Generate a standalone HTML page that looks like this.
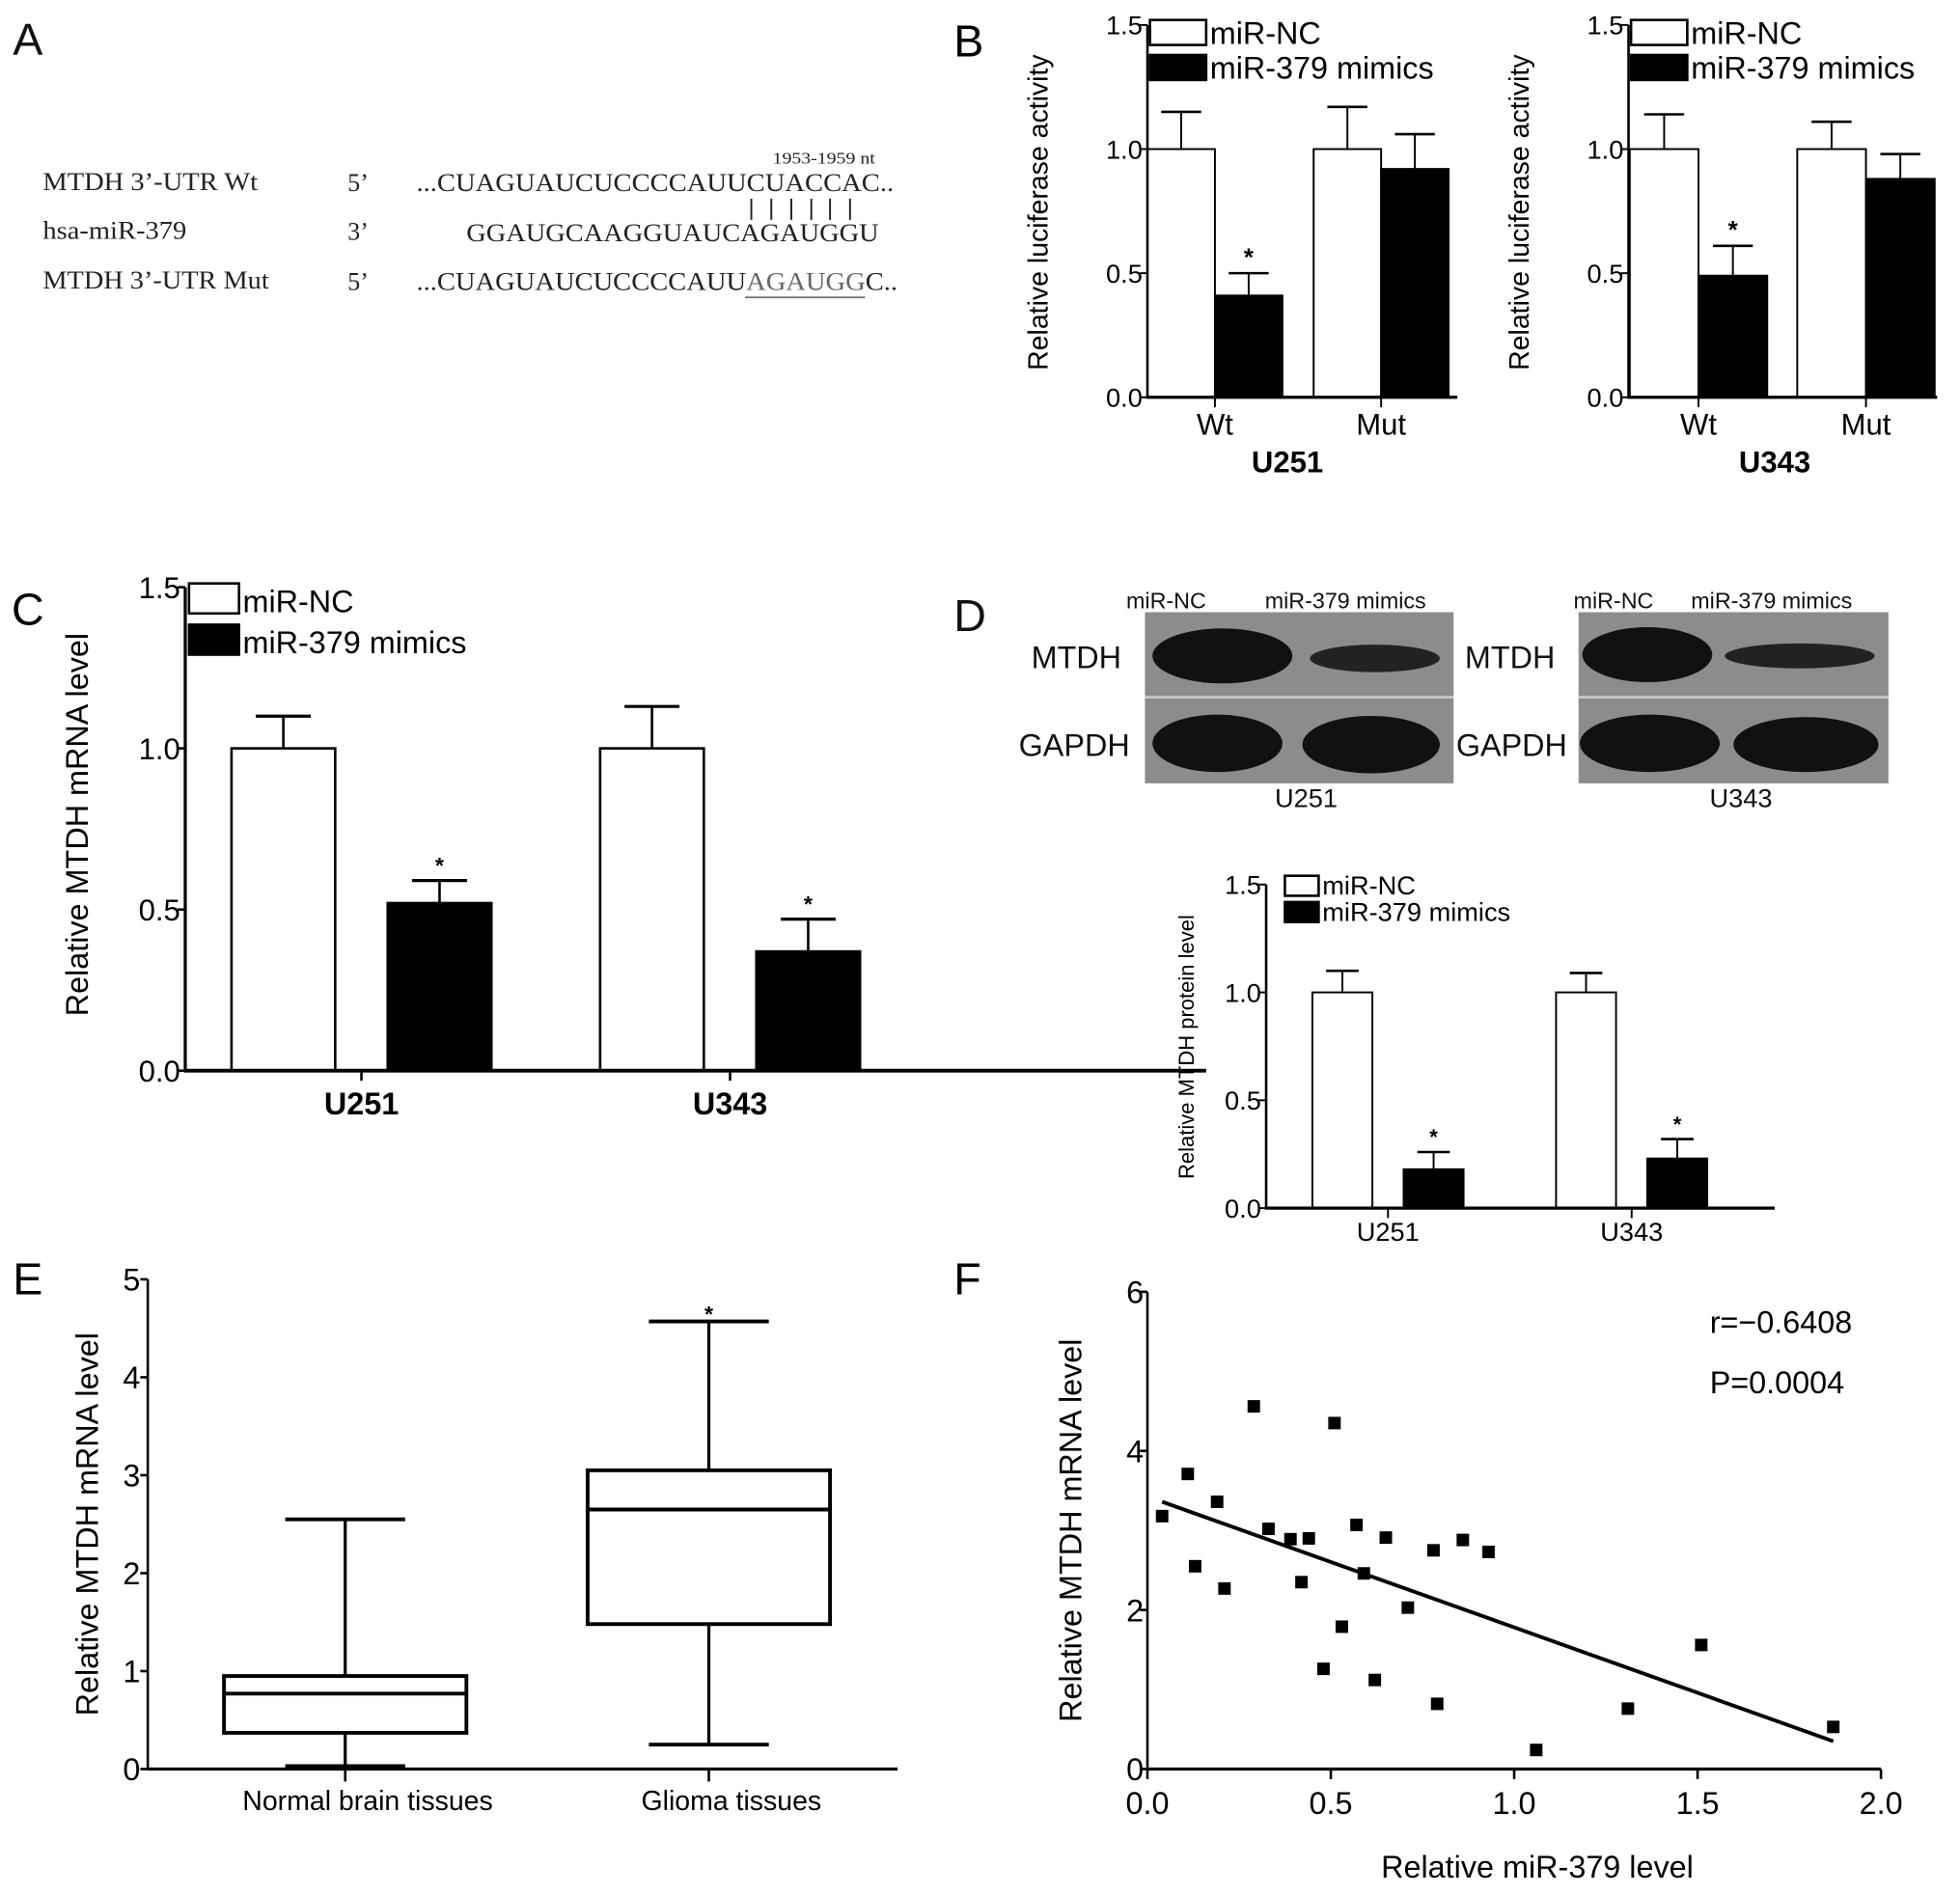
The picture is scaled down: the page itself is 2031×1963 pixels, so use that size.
<!DOCTYPE html>
<html><head><meta charset="utf-8">
<style>
html,body{margin:0;padding:0;background:#fff;}
svg{display:block;font-family:"Liberation Sans",Arial,sans-serif;}
.ser{font-family:"Liberation Serif","Times New Roman",serif;}
</style></head>
<body>
<svg id="fig" width="2031" height="1963" viewBox="0 0 1568 1516" xmlns="http://www.w3.org/2000/svg">
<rect width="1568" height="1516" fill="#fff"/>
<!-- Panel A -->
<g class="ser" font-size="20" fill="#222">
<text x="10" y="44" font-size="36" font-family="Liberation Sans" fill="#111">A</text>
<text x="34" y="152" textLength="172" lengthAdjust="spacingAndGlyphs">MTDH 3’-UTR Wt</text>
<text x="278" y="153">5’</text>
<text x="333" y="153" textLength="382" lengthAdjust="spacingAndGlyphs">...CUAGUAUCUCCCCAUUCUACCAC..</text>
<text x="618" y="131" font-size="13" textLength="82" lengthAdjust="spacingAndGlyphs">1953-1959 nt</text>
<g stroke="#222" stroke-width="1.5">
<line x1="601" y1="159" x2="601" y2="176"/><line x1="617" y1="159" x2="617" y2="176"/><line x1="633" y1="159" x2="633" y2="176"/><line x1="649" y1="159" x2="649" y2="176"/><line x1="664" y1="159" x2="664" y2="176"/><line x1="680" y1="159" x2="680" y2="176"/>
</g>
<text x="34" y="191" textLength="115" lengthAdjust="spacingAndGlyphs">hsa-miR-379</text>
<text x="278" y="192">3’</text>
<text x="373" y="193" textLength="330" lengthAdjust="spacingAndGlyphs">GGAUGCAAGGUAUCAGAUGGU</text>
<text x="34" y="231" textLength="181" lengthAdjust="spacingAndGlyphs">MTDH 3’-UTR Mut</text>
<text x="278" y="232">5’</text>
<text x="333" y="232" textLength="385" lengthAdjust="spacingAndGlyphs">...CUAGUAUCUCCCCAUU<tspan fill="#666">AGAUGG</tspan>C..</text>
<line x1="596" y1="238" x2="692" y2="238" stroke="#777" stroke-width="1.5"/>
</g>
<g id="dyn"></g>
<!-- Western blots -->
<g font-size="18" fill="#111">
<text x="763" y="505" font-size="36">D</text>
<rect x="916" y="490" width="247" height="137" fill="#8c8c8c"/>
<rect x="1263" y="490" width="248" height="137" fill="#8c8c8c"/>
<line x1="916" y1="558" x2="1163" y2="558" stroke="#ccc" stroke-width="2"/>
<line x1="1263" y1="558" x2="1511" y2="558" stroke="#ccc" stroke-width="2"/>
<ellipse cx="978" cy="525" rx="56" ry="22" fill="#111"/>
<ellipse cx="1100" cy="527" rx="52" ry="11" fill="#222"/>
<ellipse cx="974" cy="595" rx="52" ry="23" fill="#111"/>
<ellipse cx="1097" cy="596" rx="55" ry="23" fill="#111"/>
<ellipse cx="1318" cy="524" rx="52" ry="22" fill="#111"/>
<ellipse cx="1440" cy="525" rx="60" ry="10" fill="#222"/>
<ellipse cx="1320" cy="595" rx="56" ry="23" fill="#111"/>
<ellipse cx="1445" cy="596" rx="58" ry="22" fill="#111"/>
<text x="901" y="487">miR-NC</text>
<text x="1012" y="487">miR-379 mimics</text>
<text x="1259" y="487">miR-NC</text>
<text x="1353" y="487">miR-379 mimics</text>
<text x="825" y="535" font-size="25">MTDH</text>
<text x="815" y="605" font-size="25">GAPDH</text>
<text x="1172" y="535" font-size="25">MTDH</text>
<text x="1165" y="605" font-size="25">GAPDH</text>
<text x="1045" y="646" font-size="21" text-anchor="middle">U251</text>
<text x="1393" y="646" font-size="21" text-anchor="middle">U343</text>
</g>
</svg>
<script>
const NS="http://www.w3.org/2000/svg";
const root=document.getElementById('dyn');
function el(tag,attrs,parent,txt){const e=document.createElementNS(NS,tag);for(const k in attrs)e.setAttribute(k,attrs[k]);if(txt!==undefined)e.textContent=txt;(parent||root).appendChild(e);return e;}

// ---- data ----
const bLeftCats=["Wt","Mut"];
const bLeftNC=[1.0,1.0];const bLeftNCErr=[0.15,0.17];
const bLeftMim=[0.41,0.92];const bLeftMimErr=[0.09,0.14];
const bRightCats=["Wt","Mut"];
const bRightNC=[1.0,1.0];const bRightNCErr=[0.14,0.11];
const bRightMim=[0.49,0.88];const bRightMimErr=[0.12,0.10];
const cCats=["U251","U343"];
const cNC=[1.0,1.0];const cNCErr=[0.10,0.13];
const cMim=[0.52,0.37];const cMimErr=[0.07,0.10];
const dCats=["U251","U343"];
const dNC=[1.0,1.0];const dNCErr=[0.10,0.09];
const dMim=[0.18,0.23];const dMimErr=[0.08,0.09];
const barTicks=["0.0","0.5","1.0","1.5"];
const eCats=["Normal brain tissues","Glioma tissues"];
const eMin=[0.03,0.25];const eQ1=[0.37,1.48];const eMed=[0.77,2.65];const eQ3=[0.95,3.05];const eMax=[2.55,4.57];
const eTicks=["0","1","2","3","4","5"];
const fX=[0.04,0.11,0.13,0.19,0.21,0.29,0.33,0.39,0.42,0.44,0.48,0.51,0.53,0.57,0.59,0.62,0.65,0.71,0.78,0.79,0.86,0.93,1.06,1.31,1.51,1.87];
const fY=[3.18,3.71,2.55,3.36,2.27,4.56,3.02,2.89,2.35,2.90,1.26,4.35,1.79,3.07,2.46,1.12,2.91,2.03,2.75,0.82,2.88,2.73,0.24,0.76,1.56,0.53];
const fFit=[-1.645,3.426];
const fXTicks=["0.0","0.5","1.0","1.5","2.0"];
const fYTicks=["0","2","4","6"];

function barChart(o){
  const g=el('g',{});
  
  
  const y=v=>o.y0-(v/1.5)*(o.y0-o.yTop);
  const gap=o.gap||0;
  o.cats.forEach((c,i)=>{
    const xs=o.xs[i];
    [[o.nc,o.ncErr,'#fff',xs],[o.mim,o.mimErr,'#000',xs+o.bw+gap]].forEach(([vals,errs,fill,x0],k)=>{
      const v=vals[i],e=errs[i];
      const ex=x0+o.bw/2, top=y(v+e);
      const eb=el('line',{x1:ex,y1:y(v),x2:ex,y2:top,stroke:'#000','stroke-width':o.sw},g);
      
      
      el('line',{x1:ex-o.cap,y1:top,x2:ex+o.cap,y2:top,stroke:'#000','stroke-width':o.sw+0.5},g);
      const r=el('rect',{x:x0,y:y(v),width:o.bw,height:o.y0-y(v),fill:fill,stroke:'#000','stroke-width':o.sw},g);
      
      
      if(k&&o.star[i]){const s=el('text',{x:ex,y:top-6,'text-anchor':'middle','font-size':o.starSize,'font-weight':'bold'},g,'*');
        
        }
    });
    const cx=xs+o.bw+gap/2;
    el('line',{x1:cx,y1:o.y0,x2:cx,y2:o.y0+8,stroke:'#000','stroke-width':o.sw},g);
    const t=el('text',{x:cx,y:o.catY,'text-anchor':'middle','font-size':o.catSize,'font-weight':o.catBold?'bold':'normal'},g,c);
    
    
  });
  el('line',{x1:o.ax,y1:o.yTop,x2:o.ax,y2:o.y0+1,stroke:'#000','stroke-width':o.sw+0.5},g);
  el('line',{x1:o.ax-1,y1:o.y0,x2:o.xEnd,y2:o.y0,stroke:'#000','stroke-width':o.sw+1},g);
  barTicks.forEach(tk=>{const yy=y(+tk);
    el('line',{x1:o.ax-6,y1:yy,x2:o.ax,y2:yy,stroke:'#000','stroke-width':o.sw},g);
    const t=el('text',{x:o.ax-4,y:yy+o.tickSize*0.36,'text-anchor':'end','font-size':o.tickSize},g,tk);
    
    });
  const yt=el('text',{x:0,y:0,transform:`translate(${o.ytX},${o.ytY}) rotate(-90)`,'text-anchor':'middle','font-size':o.ytSize},g,o.ytitle);
  
  
  const L=o.leg;
  const l1=el('rect',{x:L.x,y:L.y,width:L.w,height:L.h,fill:'#fff',stroke:'#000','stroke-width':2},g);
  
  
  const l2=el('rect',{x:L.x,y:L.y+L.dy,width:L.w,height:L.h,fill:'#000',stroke:'#000','stroke-width':2},g);
  
  
  const lt1=el('text',{x:L.x+L.w+3,y:L.y+L.h-1,'font-size':L.fs},g,'miR-NC');
  
  
  const lt2=el('text',{x:L.x+L.w+3,y:L.y+L.dy+L.h-1,'font-size':L.fs},g,'miR-379 mimics');
  
  
  if(o.group){const t=el('text',{x:o.group[0],y:o.group[1],'text-anchor':'middle','font-size':24,'font-weight':'bold'},g,o.group[2]);
    
    }
  return g;
}
const pl=el('text',{x:763,y:45,'font-size':36},root,'B');


barChart({name:'chart-b-u251',cats:bLeftCats,nc:bLeftNC,ncErr:bLeftNCErr,mim:bLeftMim,mimErr:bLeftMimErr,star:[1,0],
  ax:918,y0:318,yTop:20,xEnd:1166,xs:[918,1051],bw:54,sw:1.5,cap:16,starSize:20,catY:348,catSize:24,catBold:false,tickSize:21,
  ytitle:'Relative luciferase activity',ytX:838,ytY:170,ytSize:22,leg:{x:920,y:16,w:45,h:20,dy:28,fs:25},group:[1030,378,'U251']});
barChart({name:'chart-b-u343',cats:bRightCats,nc:bRightNC,ncErr:bRightNCErr,mim:bRightMim,mimErr:bRightMimErr,star:[1,0],
  ax:1303,y0:318,yTop:20,xEnd:1550,xs:[1304,1438],bw:55,sw:1.5,cap:16,starSize:20,catY:348,catSize:24,catBold:false,tickSize:21,
  ytitle:'Relative luciferase activity',ytX:1223,ytY:170,ytSize:22,leg:{x:1305,y:16,w:45,h:20,dy:28,fs:25},group:[1420,378,'U343']});
const plc=el('text',{x:9,y:500,'font-size':36},root,'C');


barChart({name:'chart-c',cats:cCats,nc:cNC,ncErr:cNCErr,mim:cMim,mimErr:cMimErr,star:[1,1],gap:42,
  ax:148,y0:857,yTop:470,xEnd:965,xs:[185,480],bw:83,sw:2,cap:22,starSize:18,catY:892,catSize:25,catBold:true,tickSize:24,
  ytitle:'Relative MTDH mRNA level',ytX:70,ytY:660,ytSize:25,leg:{x:151,y:467,w:40,h:24,dy:33,fs:25},group:null});
barChart({name:'chart-d',cats:dCats,nc:dNC,ncErr:dNCErr,mim:dMim,mimErr:dMimErr,star:[1,1],gap:25,
  ax:1013,y0:967,yTop:708,xEnd:1420,xs:[1050,1245],bw:48,sw:1.5,cap:13,starSize:17,catY:993,catSize:21,catBold:false,tickSize:21,
  ytitle:'Relative MTDH protein level',ytX:955,ytY:838,ytSize:17,leg:{x:1028,y:701,w:27,h:16,dy:21,fs:21},group:null});

// ---- Panel E box plot ----
(function(){
  const g=el('g',{});
  
  
  const lab=el('text',{x:10,y:1036,'font-size':36},g,'E');
  
  
  const ax=118,y0=1416,yTop=1024,xEnd=718;
  const y=v=>y0-v/5*(y0-yTop);
  const cx=[276,567],hw=97,cw=48;
  eCats.forEach((c,i)=>{
    el('line',{x1:cx[i],y1:y(eMin[i]),x2:cx[i],y2:y(eMax[i]),stroke:'#000','stroke-width':2.5},g);
    el('line',{x1:cx[i]-cw,y1:y(eMax[i]),x2:cx[i]+cw,y2:y(eMax[i]),stroke:'#000','stroke-width':3},g);
    el('line',{x1:cx[i]-cw,y1:y(eMin[i]),x2:cx[i]+cw,y2:y(eMin[i]),stroke:'#000','stroke-width':3},g);
    const b=el('rect',{x:cx[i]-hw,y:y(eQ3[i]),width:hw*2,height:y(eQ1[i])-y(eQ3[i]),fill:'#fff',stroke:'#000','stroke-width':3},g);
    
    
    el('line',{x1:cx[i]-hw,y1:y(eMed[i]),x2:cx[i]+hw,y2:y(eMed[i]),stroke:'#000','stroke-width':3},g);
    el('line',{x1:cx[i],y1:y0,x2:cx[i],y2:y0+10,stroke:'#000','stroke-width':2},g);
    const t=el('text',{x:cx[i]+18,y:1449,'text-anchor':'middle','font-size':22},g,c);
    
    
  });
  const st=el('text',{x:567,y:1058,'text-anchor':'middle','font-size':18,'font-weight':'bold'},g,'*');
  
  
  el('line',{x1:ax,y1:yTop,x2:ax,y2:y0,stroke:'#000','stroke-width':2},g);
  el('line',{x1:ax,y1:y0,x2:xEnd,y2:y0,stroke:'#000','stroke-width':2.5},g);
  eTicks.forEach(tk=>{const yy=y(+tk);
    el('line',{x1:ax-6,y1:yy,x2:ax,y2:yy,stroke:'#000','stroke-width':2},g);
    const t=el('text',{x:ax-6,y:yy+9,'text-anchor':'end','font-size':25},g,tk);
    
    });
  const yt=el('text',{transform:'translate(78,1220) rotate(-90)','text-anchor':'middle','font-size':25},g,'Relative MTDH mRNA level');
  
  
})();

// ---- Panel F scatter ----
(function(){
  const g=el('g',{});
  
  
  const lab=el('text',{x:763,y:1036,'font-size':36},g,'F');
  
  
  const ax=918,y0=1416,yTop=1034,x2=1505;
  const X=v=>ax+v/2*(x2-ax), Y=v=>y0-v/6*(y0-yTop);
  el('line',{x1:ax,y1:yTop,x2:ax,y2:y0,stroke:'#000','stroke-width':2},g);
  el('line',{x1:ax,y1:y0,x2:x2,y2:y0,stroke:'#000','stroke-width':2.5},g);
  fYTicks.forEach(tk=>{const yy=Y(+tk);
    el('line',{x1:ax-6,y1:yy,x2:ax,y2:yy,stroke:'#000','stroke-width':2},g);
    const t=el('text',{x:ax-3,y:yy+9,'text-anchor':'end','font-size':25},g,tk);
    
    });
  fXTicks.forEach(tk=>{const xx=X(+tk);
    el('line',{x1:xx,y1:y0,x2:xx,y2:y0+8,stroke:'#000','stroke-width':2},g);
    const t=el('text',{x:xx,y:1452,'text-anchor':'middle','font-size':25},g,tk);
    
    });
  fX.forEach((v,i)=>{
    const p=el('rect',{x:X(v)-5,y:Y(fY[i])-5,width:10,height:10,fill:'#000'},g);
    
    
  });
  const xa=0.04,xb=1.87;
  const ln=el('line',{x1:X(xa),y1:Y(fFit[0]*xa+fFit[1]),x2:X(xb),y2:Y(fFit[0]*xb+fFit[1]),stroke:'#000','stroke-width':3},g);
  
  
  const r=el('text',{x:1368,y:1067,'font-size':25},g,'r=−0.6408');
  
  
  const pv=el('text',{x:1368,y:1115,'font-size':25},g,'P=0.0004');
  
  
  const xt=el('text',{x:1230,y:1503,'text-anchor':'middle','font-size':25},g,'Relative miR-379 level');
  
  
  const yt=el('text',{transform:'translate(865,1225) rotate(-90)','text-anchor':'middle','font-size':25},g,'Relative MTDH mRNA level');
  
  
})();
</script>
</body></html>
